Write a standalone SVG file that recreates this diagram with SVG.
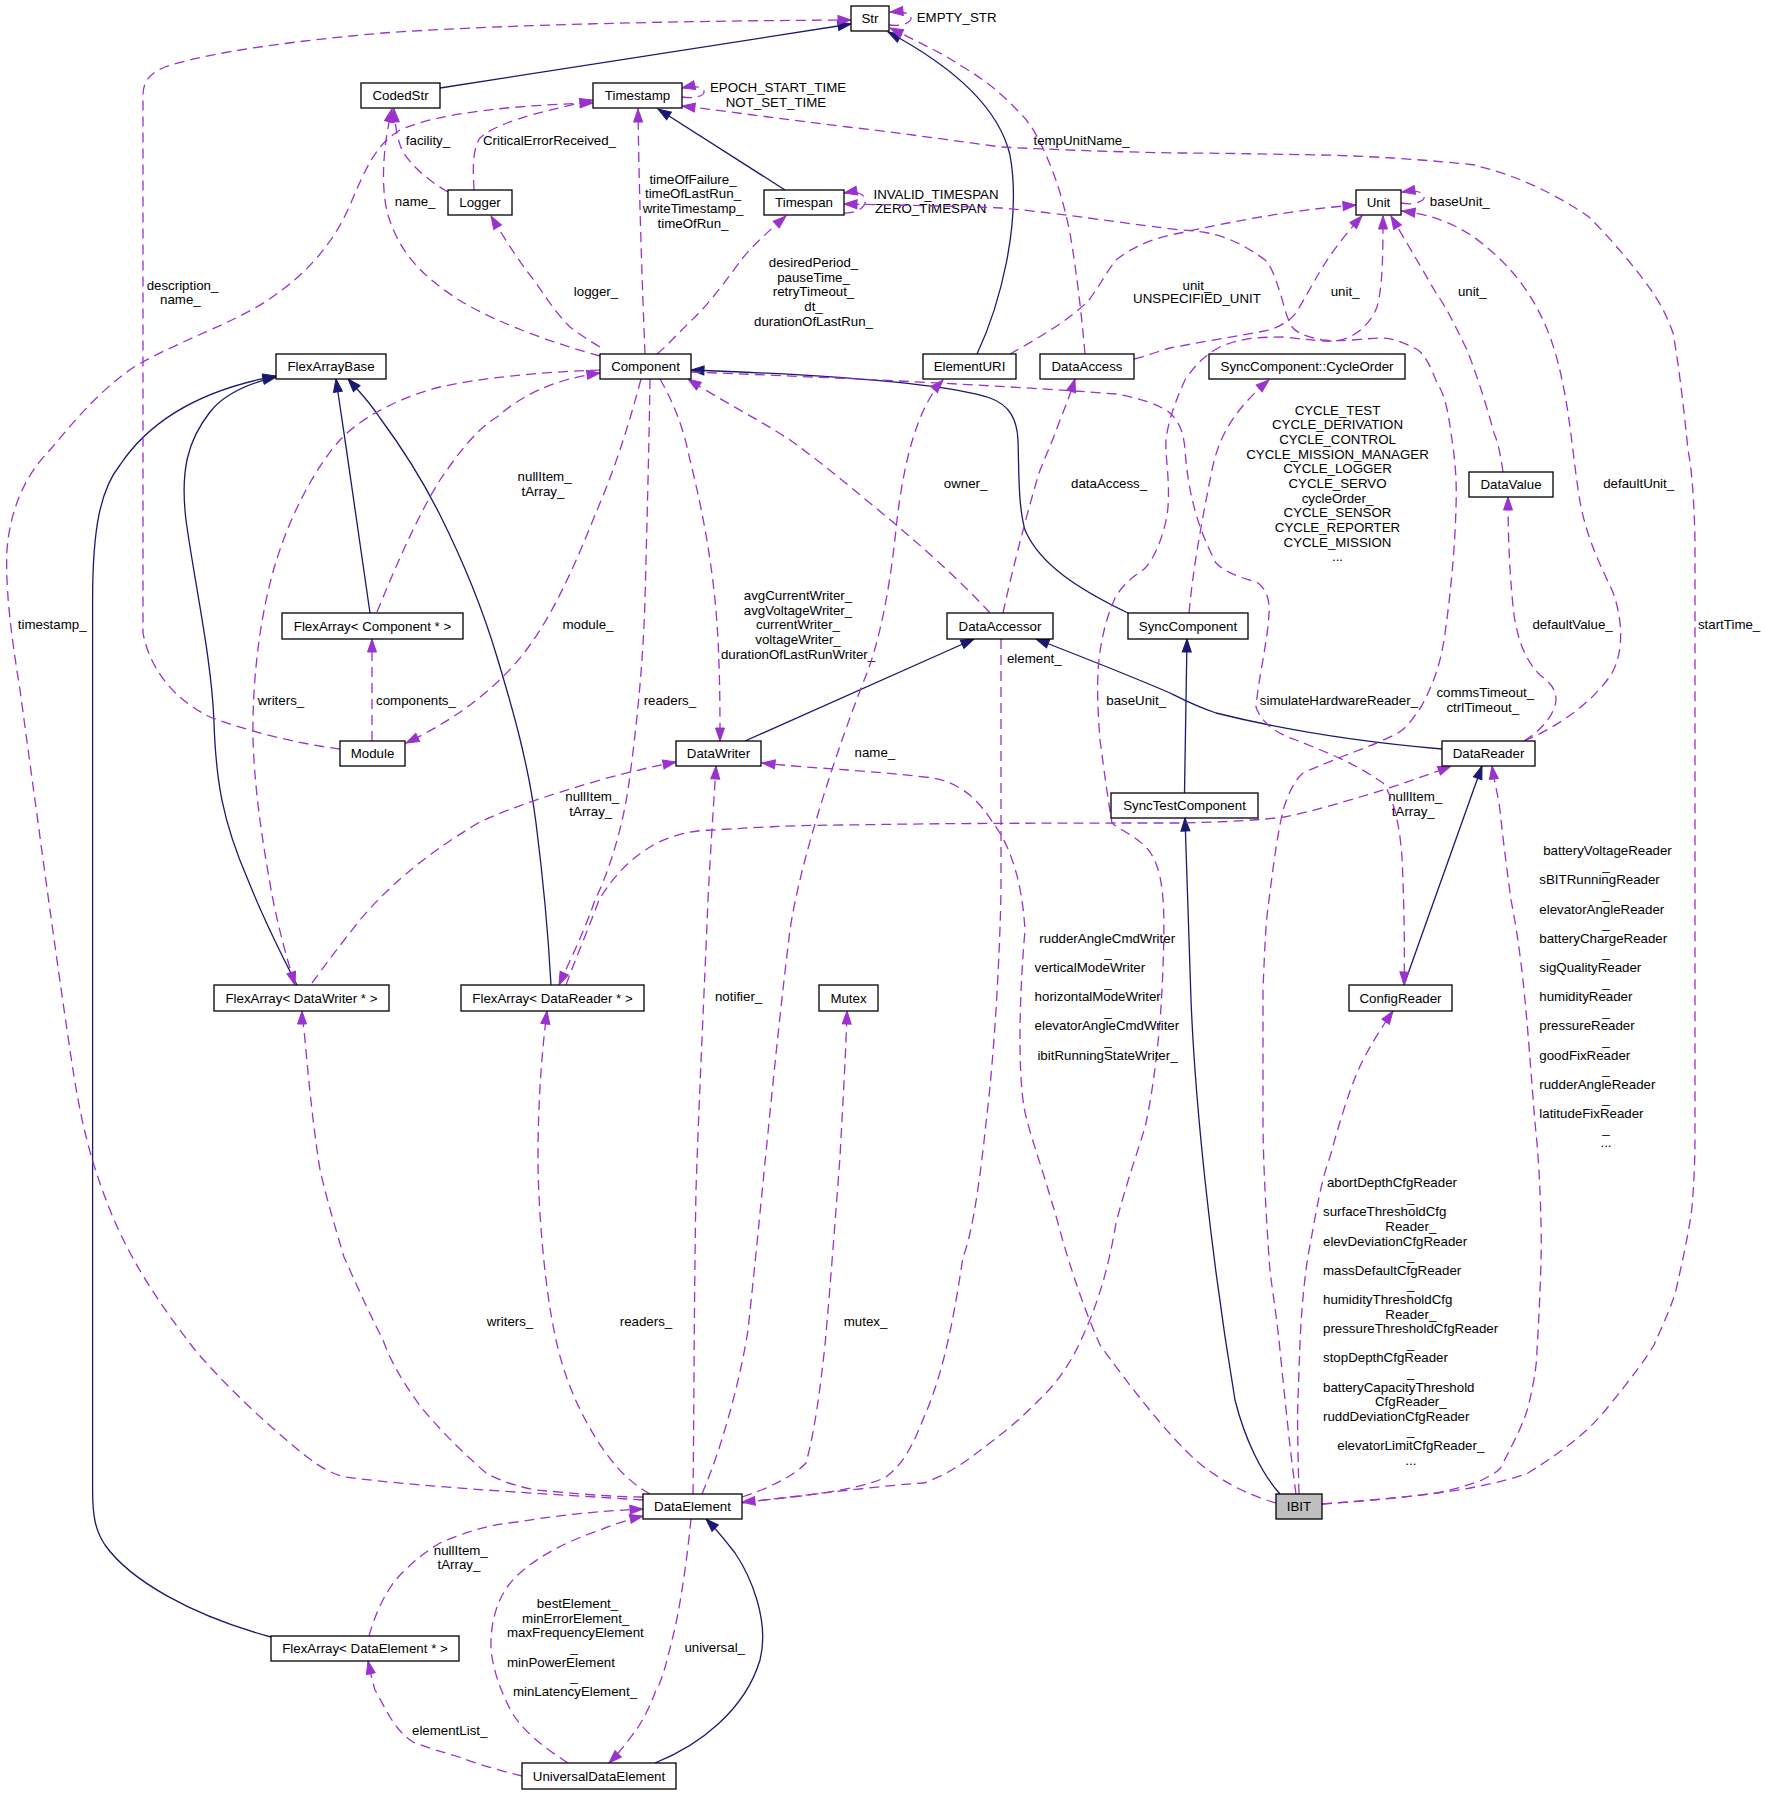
<svg xmlns="http://www.w3.org/2000/svg" width="1767" height="1795" viewBox="0 0 1767 1795">
<style>
text{font-family:"Liberation Sans",Arial,Helvetica,sans-serif;font-size:13.3px;fill:#000}
.n rect{fill:#fff;stroke:#000;stroke-width:1.3}
.n text{text-anchor:middle}
.u{fill:none;stroke:#9a32cd;stroke-width:1.3;stroke-dasharray:10,6;marker-end:url(#ap)}
.i{fill:none;stroke:#191970;stroke-width:1.3;marker-end:url(#an)}
.c{text-anchor:middle}
.l{text-anchor:start}
</style>
<defs>
<marker id="ap" markerUnits="userSpaceOnUse" markerWidth="14" markerHeight="10" refX="13" refY="4.5" orient="auto" overflow="visible"><path d="M0,0 L13,4.5 L0,9 z" fill="#9a32cd" stroke="#9a32cd" stroke-width="1"/></marker>
<marker id="an" markerUnits="userSpaceOnUse" markerWidth="14" markerHeight="10" refX="13" refY="4.5" orient="auto" overflow="visible"><path d="M0,0 L13,4.5 L0,9 z" fill="#191970" stroke="#191970" stroke-width="1"/></marker>
</defs>
<rect width="1767" height="1795" fill="#fff"/>
<g id="connectors">
<!-- inheritance -->
<path class="i" d="M440,88 L851,24"/>
<path class="i" d="M785,190 L658,109"/>
<path class="i" d="M977,354 C1000,305 1022,222 1010,155 C998,105 950,65 888,32"/>
<path class="i" d="M370,613 C362,555 348,460 336,379"/>
<path class="i" d="M297,985 C280,952 262,915 248,880 C222,820 216,780 214,723 C212,660 194,580 186,520 C180,470 188,440 210,412 C225,393 250,383 276,377"/>
<path class="i" d="M271,1637 C190,1615 130,1580 105,1545 C95,1530 92.6,1515 92.6,1490 L92.6,600 C92.6,530 100,490 120,465 C150,420 200,390 276,376"/>
<path class="i" d="M551,985 C548,930 542,870 536,823 C528,760 510,700 497,657 C480,600 460,555 440,515 C420,475 400,445 380,418 C368,400 358,390 348,379"/>
<path class="i" d="M1128,613 C1080,590 1040,565 1025,530 C1018,505 1019,470 1018,440 C1017,420 1010,405 990,398 C950,385 860,376 691,370"/>
<path class="i" d="M745,741 L974,639"/>
<path class="i" d="M1442,749 C1360,742 1284,730 1216,713 C1195,706 1180,698 1170,693 C1140,680 1090,660 1036,639"/>
<path class="i" d="M1184.5,793 L1187,639"/>
<path class="i" d="M1404,985 L1482,766"/>
<path class="i" d="M1280,1494 C1262,1474 1245,1440 1235,1400 C1210,1250 1195,1100 1191,1000 C1188,900 1186,850 1185,818"/>
<path class="i" d="M655,1763 C700,1745 745,1710 760,1660 C770,1620 750,1575 735,1553 C725,1540 715,1528 706,1519"/>

<!-- usage -->
<g id="e-str-loop"><path class="u" d="M889,25 C903,27 912,22 911,17 C910,13 902,11 890,12"/><text class="c" x="956.6" y="22">EMPTY_STR</text></g>
<g id="e-module-str"><path class="u" d="M340,749 C300,744 250,732 210,717 C175,700 150,670 143,633 L143,95 C143,80 152,72 165,67 C200,55 270,43 383,33 C480,26 650,21 851,20"/><text class="c" x="182.5" y="289.5">description_</text><text class="c" x="180.4" y="303.5">name_</text></g>
<g id="e-timestamp-loop"><path class="u" d="M682,97 C695,99 705,96 704,91 C703,87 695,85 682,88"/><text class="c" x="778" y="92">EPOCH_START_TIME</text><text class="c" x="776" y="107">NOT_SET_TIME</text></g>
<g id="e-logger-codedstr"><path class="u" d="M448,192 C430,182 410,165 402,150 C397,138 395,125 394,109"/><text class="c" x="428" y="145">facility_</text></g>
<g id="e-logger-timestamp"><path class="u" d="M474,190 C473,170 472,150 480,138 C495,124 530,114 593,100"/><text class="c" x="549.5" y="145">CriticalErrorReceived_</text></g>
<g id="e-component-codedstr"><path class="u" d="M600,356 C560,345 500,325 459,300 C425,278 400,255 388,215 C381,190 382,150 392,109"/><text class="c" x="415.2" y="206">name_</text></g>
<g id="e-dataelement-timestamp"><path class="u" d="M643,1500 C550,1494 430,1488 345,1477 C325,1472 310,1460 290,1443 C260,1418 225,1385 195,1350 C160,1305 130,1260 110,1210 C90,1160 80,1120 70,1050 C55,950 35,800 20,690 C12,640 5,590 7,550 C10,510 25,475 50,450 C75,420 100,390 134,367 C180,340 230,325 268,300 C310,272 335,240 350,205 C365,170 375,145 400,130 C440,112 520,105 593,103"/><text class="c" x="52.2" y="628.5">timestamp_</text></g>
<g id="e-component-timestamp"><path class="u" d="M645,354 C642,280 639,190 638,109"/><text class="c" x="693" y="183.8">timeOfFailure_</text><text class="c" x="693" y="198.4">timeOfLastRun_</text><text class="c" x="693" y="213">writeTimestamp_</text><text class="c" x="693" y="227.6">timeOfRun_</text></g>
<g id="e-timespan-loop"><path class="u" d="M844,213 C858,214 868,205 865,198 C862,193 855,191 844,193"/><text class="c" x="936" y="198.8">INVALID_TIMESPAN</text><text class="c" x="930.6" y="212.8">ZERO_TIMESPAN</text></g>
<g id="e-component-logger"><path class="u" d="M600,347 C588,340 578,333 570,327 C555,312 545,296 536,283 C522,265 510,248 491,216"/><text class="c" x="596" y="296">logger_</text></g>
<g id="e-component-timespan"><path class="u" d="M657,354 C670,343 683,328 695,317 C712,300 728,278 741,260 C755,243 770,230 786,216"/><text class="c" x="813.5" y="267.2">desiredPeriod_</text><text class="c" x="813.5" y="281.8">pauseTime_</text><text class="c" x="813.5" y="296.4">retryTimeout_</text><text class="c" x="813.5" y="311">dt_</text><text class="c" x="813.5" y="325.6">durationOfLastRun_</text></g>
<g id="e-dataaccess-str"><path class="u" d="M1085,354 C1083,330 1078,280 1070,233 C1063,200 1058,185 1051,167 C1040,140 1032,125 1020,113 C1000,92 985,80 963,67 C945,55 925,45 890,28"/><text class="c" x="1081.5" y="145.2">tempUnitName_</text></g>
<g id="e-elementuri-unit"><path class="u" d="M1010,354 C1035,340 1070,320 1089,300 C1100,285 1108,270 1116,260 C1135,245 1155,238 1180,233 C1230,222 1290,210 1356,205"/><text class="c" x="1197" y="289.5">unit_</text><text class="c" x="1197" y="302.8">UNSPECIFIED_UNIT</text></g>
<g id="e-dataaccess-unit"><path class="u" d="M1134,359 C1150,355 1162,350 1170,348 C1200,342 1240,336 1269,330 C1285,325 1292,318 1296,313 C1305,298 1312,285 1315,280 C1325,262 1340,240 1362,216"/><text class="c" x="1345.1" y="296.2">unit_</text></g>
<g id="e-datavalue-unit"><path class="u" d="M1503,472 C1500,450 1497,440 1494,433 C1485,400 1475,370 1467,350 C1455,325 1445,305 1436,293 C1420,265 1405,240 1391,216"/><text class="c" x="1472.3" y="296.2">unit_</text></g>
<g id="e-unit-loop"><path class="u" d="M1401,203 C1416,206 1426,200 1424,196 C1422,191 1414,190 1402,192"/><text class="c" x="1459.8" y="206.2">baseUnit_</text></g>
<g id="e-flexcomp-component"><path class="u" d="M377,612 C390,580 415,520 440,480 C455,458 475,430 497,417 C520,397 550,380 600,373"/><text class="c" x="544.6" y="481.2">nullItem_</text><text class="c" x="542.9" y="495.5">tArray_</text></g>
<g id="e-component-module"><path class="u" d="M641,379 C625,440 610,480 595,515 C575,565 555,610 530,645 C505,680 465,715 406,743"/><text class="c" x="588" y="628.5">module_</text></g>
<g id="e-module-flexcomp"><path class="u" d="M372,741 L372,639"/><text class="c" x="416" y="705.2">components_</text></g>
<g id="e-component-datawriter"><path class="u" d="M660,379 C672,400 683,425 690,460 C705,520 715,580 718,640 C720,680 720,710 720,741"/><text class="c" x="798" y="600.2">avgCurrentWriter_</text><text class="c" x="798" y="614.8">avgVoltageWriter_</text><text class="c" x="798" y="629.4">currentWriter_</text><text class="c" x="798" y="644">voltageWriter_</text><text class="c" x="798" y="658.6">durationOfLastRunWriter_</text></g>
<g id="e-component-flexwriter"><path class="u" d="M600,370 C540,372 480,378 440,387 C400,397 360,418 340,440 C315,468 290,515 275,565 C260,615 252,680 253,740 C255,800 265,855 272,895 C280,935 288,962 295,985"/><text class="c" x="280.9" y="705.2">writers_</text></g>
<g id="e-component-flexreader"><path class="u" d="M650,379 C649,450 647,520 645,600 C643,670 635,740 628,790 C620,840 605,880 595,900 C585,930 570,960 559,985"/><text class="c" x="669.9" y="705.2">readers_</text></g>
<g id="e-flexwriter-datawriter"><path class="u" d="M312,983 C325,965 340,945 360,920 C385,890 420,858 478,823 C510,808 540,798 600,780 C630,772 650,767 676,762"/><text class="c" x="592.3" y="801.2">nullItem_</text><text class="c" x="590.8" y="816.2">tArray_</text></g>
<g id="e-flexreader-datareader"><path class="u" d="M566,985 C575,960 590,925 599,900 C608,885 625,860 657,843 C680,832 700,830 714,830 C760,827 800,825 848,825 C950,823 1100,823 1180,823 C1230,822 1260,820 1284,817 C1310,812 1340,803 1360,797 C1390,788 1420,778 1451,766"/><text class="c" x="1415.2" y="801.2">nullItem_</text><text class="c" x="1413.3" y="816.2">tArray_</text></g>
<g id="e-dataelement-datawriter"><path class="u" d="M693,1494 C694,1420 694,1300 696,1190 C699,1100 703,1020 708,900 C711,840 714,800 716,766"/><text class="c" x="738.6" y="1001.2">notifier_</text></g>
<g id="e-dataelement-elementuri"><path class="u" d="M702,1494 C725,1440 742,1370 748,1330 C760,1220 775,1050 790,930 C800,860 840,740 867,673 C885,625 893,560 897,520 C903,470 915,410 943,380"/><text class="c" x="874.9" y="757.2">name_</text></g>
<g id="e-dataelement-mutex"><path class="u" d="M742,1497 C770,1488 795,1475 806,1463 C815,1430 820,1390 825,1345 C830,1290 836,1210 840,1157 C843,1100 846,1050 847,1011"/><text class="c" x="865.6" y="1326.2">mutex_</text></g>
<g id="e-dataelement-flexwriter"><path class="u" d="M643,1497 C610,1497 570,1493 536,1490 C510,1485 495,1478 486,1473 C460,1450 440,1430 421,1407 C405,1385 392,1365 383,1340 C365,1305 350,1270 344,1257 C330,1210 320,1175 318,1157 C310,1100 307,1060 304,1030 C303,1022 302,1018 302,1011"/><text class="c" x="510" y="1326.2">writers_</text></g>
<g id="e-dataelement-flexreader"><path class="u" d="M650,1494 C625,1480 610,1460 597,1440 C575,1405 562,1370 555,1335 C545,1290 538,1210 538,1157 C538,1100 542,1050 547,1011"/><text class="c" x="646" y="1326.2">readers_</text></g>
<g id="e-dataaccessor-dataaccess"><path class="u" d="M1003,613 C1010,580 1025,520 1039,473 C1046,455 1053,440 1060,420 C1066,405 1070,395 1075,379"/><text class="c" x="1109.1" y="488.2">dataAccess_</text></g>
<g id="e-dataaccessor-component"><path class="u" d="M990,613 C960,580 920,545 894,523 C860,495 825,465 790,440 C760,420 720,400 688,379"/><text class="c" x="965.6" y="488.2">owner_</text></g>
<g id="e-dataaccessor-dataelement"><path class="u" d="M1001,639 L1001,890 C1000,950 995,1050 986,1123 C978,1200 970,1240 963,1257 C955,1310 945,1370 924,1417 C915,1440 905,1463 886,1477 C860,1490 800,1497 742,1502"/><text class="c" x="1034.3" y="662.8">element_</text></g>
<g id="e-synccomp-cycleorder"><path class="u" d="M1189,613 C1193,570 1200,530 1212,470 C1220,430 1240,405 1269,380"/><text class="c" x="1337.5" y="414.5">CYCLE_TEST</text><text class="c" x="1337.5" y="429.2">CYCLE_DERIVATION</text><text class="c" x="1337.5" y="443.9">CYCLE_CONTROL</text><text class="c" x="1337.5" y="458.5">CYCLE_MISSION_MANAGER</text><text class="c" x="1337.5" y="473.2">CYCLE_LOGGER</text><text class="c" x="1337.5" y="487.9">CYCLE_SERVO</text><text class="c" x="1337.5" y="502.6">cycleOrder_</text><text class="c" x="1337.5" y="517.3">CYCLE_SENSOR</text><text class="c" x="1337.5" y="531.9">CYCLE_REPORTER</text><text class="c" x="1337.5" y="546.6">CYCLE_MISSION</text><text class="c" x="1337.5" y="561.3">...</text></g>
<g id="e-component-configreader"><path class="u" d="M691,372 C800,376 1000,385 1116,394 C1140,398 1160,405 1170,413 C1180,422 1184,435 1185,450 C1188,490 1196,525 1216,563 C1228,575 1245,578 1258,583 C1268,590 1270,605 1269,613 C1268,640 1258,680 1256,707 C1262,725 1280,735 1296,740 C1320,750 1350,760 1383,783 C1395,800 1400,830 1402,857 C1404,900 1405,950 1404,985"/><text class="c" x="1338.9" y="705.2">simulateHardwareReader_</text></g>
<g id="e-datareader-unit"><path class="u" d="M1524,741 C1560,726 1595,700 1612,673 C1625,650 1622,615 1612,590 C1600,565 1588,540 1581,507 C1574,470 1571,420 1562,380 C1550,320 1525,280 1490,250 C1465,228 1440,216 1402,211"/><text class="c" x="1638.7" y="488.2">defaultUnit_</text></g>
<g id="e-datareader-datavalue"><path class="u" d="M1524,741 C1545,728 1555,712 1556,700 C1556,688 1550,683 1540,675 C1525,660 1518,640 1514,615 C1510,580 1508,540 1508,497"/><text class="c" x="1572.6" y="628.5">defaultValue_</text></g>
<g id="e-dataelement-unit"><path class="u" d="M742,1503 C820,1493 890,1485 924,1483 C945,1475 955,1468 963,1463 C995,1440 1020,1420 1039,1400 C1055,1385 1070,1365 1081,1340 C1100,1300 1110,1260 1116,1223 C1130,1170 1142,1140 1146,1123 C1155,1080 1160,1030 1162,990 C1164,950 1165,910 1162,890 C1160,870 1155,860 1150,852 C1140,838 1120,830 1112,823 C1108,800 1104,770 1100,740 C1097,700 1096,670 1102,640 C1106,620 1110,610 1115,598 C1122,585 1135,575 1143,570 C1155,560 1166,530 1168,507 C1170,480 1165,455 1166,440 C1168,420 1178,395 1185,380 C1195,365 1205,355 1220,347 C1240,338 1260,337 1284,337 C1305,339 1325,343 1341,340 C1360,335 1372,320 1377,307 C1383,285 1383,250 1383,216"/><text class="c" x="1136.2" y="705.2">baseUnit_</text></g>
<g id="e-ibit-timespan"><path class="u" d="M1296,1494 C1290,1450 1285,1400 1280,1350 C1275,1300 1270,1280 1269,1257 C1265,1200 1263,1150 1263,1123 C1263,1060 1263,1020 1263,990 C1265,940 1266,920 1269,900 C1274,860 1278,830 1284,807 C1290,790 1295,780 1303,773 C1320,765 1330,762 1341,757 C1365,748 1385,740 1398,733 C1410,725 1415,715 1421,707 C1433,685 1440,665 1444,640 C1450,600 1455,550 1456,507 C1457,480 1455,460 1452,440 C1448,410 1445,395 1437,383 C1430,365 1425,355 1418,350 C1400,340 1390,338 1379,338 C1360,339 1340,342 1322,340 C1305,336 1297,333 1292,327 C1285,315 1283,300 1280,293 C1275,275 1270,265 1265,260 C1245,245 1225,236 1208,233 C1190,230 1185,230 1180,230 C1100,220 1050,212 1001,208 C950,206 900,205 844,204"/><text class="c" x="1485.3" y="697.2">commsTimeout_</text><text class="c" x="1482.8" y="711.8">ctrlTimeout_</text></g>
<g id="e-ibit-timestamp"><path class="u" d="M1322,1504 C1380,1500 1440,1494 1475,1487 C1500,1482 1515,1478 1528,1473 C1565,1450 1590,1430 1608,1407 C1630,1380 1645,1360 1654,1345 C1665,1320 1672,1305 1676,1290 C1685,1250 1690,1225 1692,1207 C1695,1170 1695,1150 1695,1123 L1695,540 C1694,500 1692,470 1688,450 C1683,400 1678,360 1673,333 C1665,310 1655,295 1646,283 C1625,255 1605,233 1589,217 C1565,200 1535,185 1513,177 C1495,170 1480,167 1475,165 C1430,160 1370,156 1322,155 C1260,154 1220,153 1180,153 C1120,152 1060,150 1001,147 C950,140 900,133 848,127 C790,120 740,113 682,106"/><text class="c" x="1729.1" y="628.5">startTime_</text></g>
<g id="e-ibit-datawriter"><path class="u" d="M1276,1503 C1245,1494 1225,1482 1208,1470 C1180,1450 1140,1400 1100,1345 C1080,1300 1065,1250 1058,1223 C1040,1160 1028,1130 1024,1107 C1018,1070 1019,1000 1025,930 C1022,880 1010,845 993,823 C985,810 975,798 963,790 C950,782 940,778 924,777 C890,773 860,771 848,770 C820,768 790,766 762,763"/><text class="c" x="1107.2" y="942.8">rudderAngleCmdWriter</text><text class="c" x="1108" y="957.4">_</text><text class="l" x="1034.6" y="972">verticalModeWriter</text><text class="c" x="1108" y="986.6">_</text><text class="l" x="1034.6" y="1001.2">horizontalModeWriter</text><text class="c" x="1108" y="1015.8">_</text><text class="l" x="1034.6" y="1030.4">elevatorAngleCmdWriter</text><text class="c" x="1108" y="1045">_</text><text class="c" x="1107.5" y="1059.6">ibitRunningStateWriter_</text></g>
<g id="e-ibit-datareader"><path class="u" d="M1322,1504 C1360,1501 1400,1498 1437,1493 C1460,1488 1475,1483 1482,1480 C1495,1473 1500,1470 1501,1467 C1515,1440 1525,1420 1528,1407 C1535,1380 1537,1360 1537,1350 C1540,1300 1542,1250 1541,1223 C1540,1180 1538,1150 1535,1123 C1530,1060 1528,1030 1524,990 C1520,950 1515,920 1511,900 C1507,870 1503,840 1500,810 C1497,790 1494,780 1492,766"/><text class="c" x="1607.5" y="855.2">batteryVoltageReader</text><text class="c" x="1606" y="869.8">_</text><text class="l" x="1539.3" y="884.4">sBITRunningReader</text><text class="c" x="1606" y="899">_</text><text class="l" x="1539.3" y="913.6">elevatorAngleReader</text><text class="c" x="1606" y="928.2">_</text><text class="l" x="1539.3" y="942.8">batteryChargeReader</text><text class="c" x="1606" y="957.4">_</text><text class="l" x="1539.3" y="972">sigQualityReader</text><text class="c" x="1606" y="986.6">_</text><text class="l" x="1539.3" y="1001.2">humidityReader</text><text class="c" x="1606" y="1015.8">_</text><text class="l" x="1539.3" y="1030.4">pressureReader</text><text class="c" x="1606" y="1045">_</text><text class="l" x="1539.3" y="1059.6">goodFixReader</text><text class="c" x="1606" y="1074.2">_</text><text class="l" x="1539.3" y="1088.8">rudderAngleReader</text><text class="c" x="1606" y="1103.4">_</text><text class="l" x="1539.3" y="1118">latitudeFixReader</text><text class="c" x="1606" y="1132.6">_</text><text class="c" x="1606" y="1147.2">...</text></g>
<g id="e-ibit-configreader"><path class="u" d="M1299,1494 C1298,1450 1297,1420 1298,1400 C1299,1370 1300,1340 1301,1323 C1304,1280 1307,1260 1311,1240 C1318,1200 1323,1175 1330,1157 C1340,1120 1348,1095 1357,1073 C1367,1050 1380,1030 1393,1011"/><text class="l" x="1326.9" y="1187.2">abortDepthCfgReader</text><text class="c" x="1410.8" y="1201.8">_</text><text class="l" x="1323" y="1216.4">surfaceThresholdCfg</text><text class="c" x="1410.8" y="1231">Reader_</text><text class="l" x="1323" y="1245.6">elevDeviationCfgReader</text><text class="c" x="1410.8" y="1260.2">_</text><text class="l" x="1323" y="1274.8">massDefaultCfgReader</text><text class="c" x="1410.8" y="1289.4">_</text><text class="l" x="1323" y="1304">humidityThresholdCfg</text><text class="c" x="1410.8" y="1318.6">Reader_</text><text class="l" x="1323" y="1333.2">pressureThresholdCfgReader</text><text class="c" x="1410.8" y="1347.8">_</text><text class="l" x="1323" y="1362.4">stopDepthCfgReader</text><text class="c" x="1410.8" y="1377">_</text><text class="l" x="1323" y="1391.6">batteryCapacityThreshold</text><text class="c" x="1410.8" y="1406.2">CfgReader_</text><text class="l" x="1323" y="1420.8">ruddDeviationCfgReader</text><text class="c" x="1410.8" y="1435.4">_</text><text class="c" x="1410.8" y="1450">elevatorLimitCfgReader_</text><text class="c" x="1410.8" y="1464.6">...</text></g>
<g id="e-universal-flexelem"><path class="u" d="M522,1776 C505,1772 480,1765 459,1757 C435,1750 420,1745 413,1742 C400,1733 395,1725 390,1717 C383,1705 378,1695 375,1690 C372,1680 370,1670 368,1661"/><text class="c" x="449.7" y="1735.2">elementList_</text></g>
<g id="e-flexelem-dataelement"><path class="u" d="M369,1636 C375,1615 385,1590 402,1573 C415,1560 428,1550 440,1543 C470,1530 490,1525 517,1522 C560,1515 600,1511 643,1509"/><text class="c" x="460.8" y="1555.2">nullItem_</text><text class="c" x="458.9" y="1569.2">tArray_</text></g>
<g id="e-universal-dataelement"><path class="u" d="M568,1763 C545,1748 520,1730 509,1707 C498,1685 490,1660 491,1640 C492,1615 500,1590 520,1573 C540,1555 570,1540 600,1530 C615,1524 630,1519 643,1516"/><text class="c" x="577.5" y="1608.2">bestElement_</text><text class="c" x="575.7" y="1622.8">minErrorElement_</text><text class="l" x="507" y="1637.4">maxFrequencyElement</text><text class="c" x="574" y="1652">_</text><text class="l" x="507" y="1666.6">minPowerElement</text><text class="c" x="574" y="1681.2">_</text><text class="c" x="575" y="1695.8">minLatencyElement_</text></g>
<g id="e-dataelement-universal"><path class="u" d="M691,1519 C687,1560 680,1610 672,1640 C665,1670 660,1685 656,1690 C648,1712 640,1725 634,1733 C625,1745 617,1755 609,1763"/><text class="c" x="714.7" y="1652.2">universal_</text></g>
</g>
<g id="nodes">
<g id="n-Str" class="n"><rect x="851" y="6" width="38" height="25"/><text x="870" y="23">Str</text></g>
<g id="n-CodedStr" class="n"><rect x="361" y="83" width="79" height="25"/><text x="400.5" y="100">CodedStr</text></g>
<g id="n-Timestamp" class="n"><rect x="593" y="83" width="89" height="25"/><text x="637.5" y="100">Timestamp</text></g>
<g id="n-Logger" class="n"><rect x="448" y="190" width="64" height="25"/><text x="480" y="207">Logger</text></g>
<g id="n-Timespan" class="n"><rect x="764" y="190" width="80" height="25"/><text x="804" y="207">Timespan</text></g>
<g id="n-Unit" class="n"><rect x="1356" y="190" width="45" height="25"/><text x="1378.5" y="207">Unit</text></g>
<g id="n-FlexArrayBase" class="n"><rect x="276" y="354" width="110" height="25"/><text x="331" y="371">FlexArrayBase</text></g>
<g id="n-Component" class="n"><rect x="600" y="354" width="91" height="25"/><text x="645.5" y="371">Component</text></g>
<g id="n-ElementURI" class="n"><rect x="923" y="354" width="93" height="25"/><text x="969.5" y="371">ElementURI</text></g>
<g id="n-DataAccess" class="n"><rect x="1040" y="354" width="94" height="25"/><text x="1087" y="371">DataAccess</text></g>
<g id="n-CycleOrder" class="n"><rect x="1209" y="354" width="196" height="25"/><text x="1307" y="371">SyncComponent::CycleOrder</text></g>
<g id="n-DataValue" class="n"><rect x="1469" y="472" width="84" height="25"/><text x="1511" y="489">DataValue</text></g>
<g id="n-FlexArrayComponent" class="n"><rect x="282" y="613" width="181" height="26"/><text x="372.5" y="630.5">FlexArray&lt; Component * &gt;</text></g>
<g id="n-DataAccessor" class="n"><rect x="947" y="613" width="106" height="26"/><text x="1000" y="630.5">DataAccessor</text></g>
<g id="n-SyncComponent" class="n"><rect x="1128" y="613" width="120" height="26"/><text x="1188" y="630.5">SyncComponent</text></g>
<g id="n-Module" class="n"><rect x="340" y="741" width="65" height="25"/><text x="372.5" y="758">Module</text></g>
<g id="n-DataWriter" class="n"><rect x="676" y="741" width="85" height="25"/><text x="718.5" y="758">DataWriter</text></g>
<g id="n-DataReader" class="n"><rect x="1442" y="741" width="93" height="25"/><text x="1488.5" y="758">DataReader</text></g>
<g id="n-SyncTestComponent" class="n"><rect x="1111" y="793" width="147" height="25"/><text x="1184.5" y="810">SyncTestComponent</text></g>
<g id="n-FlexArrayDataWriter" class="n"><rect x="214" y="985" width="175" height="26"/><text x="301.5" y="1002.5">FlexArray&lt; DataWriter * &gt;</text></g>
<g id="n-FlexArrayDataReader" class="n"><rect x="461" y="985" width="183" height="26"/><text x="552.5" y="1002.5">FlexArray&lt; DataReader * &gt;</text></g>
<g id="n-Mutex" class="n"><rect x="819" y="985" width="59" height="26"/><text x="848.5" y="1002.5">Mutex</text></g>
<g id="n-ConfigReader" class="n"><rect x="1349" y="985" width="103" height="26"/><text x="1400.5" y="1002.5">ConfigReader</text></g>
<g id="n-DataElement" class="n"><rect x="643" y="1494" width="99" height="25"/><text x="692.5" y="1511">DataElement</text></g>
<g id="n-IBIT" class="n"><rect x="1276" y="1494" width="46" height="25" style="fill:#bfbfbf"/><text x="1299" y="1511">IBIT</text></g>
<g id="n-FlexArrayDataElement" class="n"><rect x="271" y="1636" width="188" height="25"/><text x="365" y="1653">FlexArray&lt; DataElement * &gt;</text></g>
<g id="n-UniversalDataElement" class="n"><rect x="522" y="1763" width="154" height="26"/><text x="599" y="1780.5">UniversalDataElement</text></g>
</g>
</svg>
